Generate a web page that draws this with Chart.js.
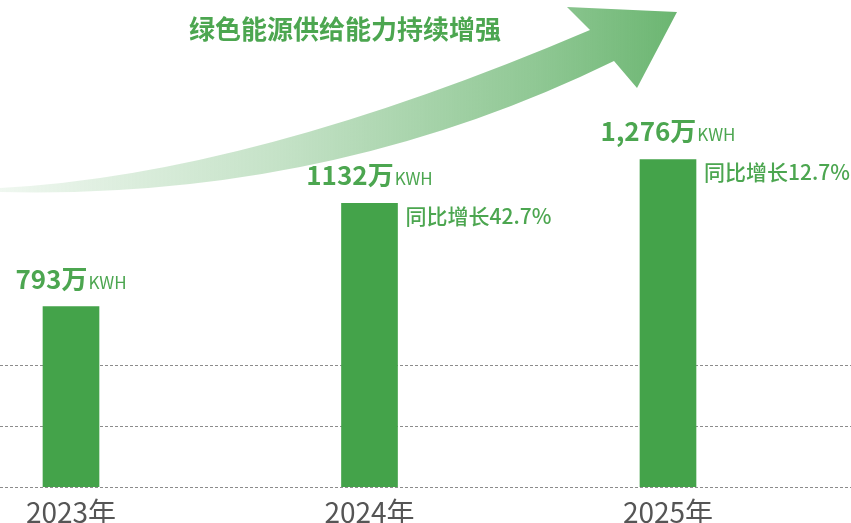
<!DOCTYPE html>
<html>
<head>
<meta charset="utf-8">
<script src="https://cdn.jsdelivr.net/npm/chart.js@4"></script>
<style>
  html, body { margin: 0; padding: 0; background: #fff; }
  canvas { display: block; }
</style>
</head>
<body>
<canvas id="energyChart" width="851" height="523"></canvas>
<script>
const years = ["2023年", "2024年", "2025年"];
const supply = [793, 1132, 1276];
const supplyText = ["793", "1132", "1,276"];
const growth = [null, 42.7, 12.7];
const gridLevels = [200, 400, 600];
const title = "绿色能源供给能力持续增强";

const barGreen = "#44a34a";
const textGreen = "#4ca650";
const fontFamily = "'Noto Sans CJK SC', 'Noto Sans', sans-serif";

const decor = {
  id: "decor",
  beforeDatasetsDraw(chart) {
    const ctx = chart.ctx;
    const y = chart.scales.y;

    // dashed guide lines across the whole width
    ctx.save();
    ctx.strokeStyle = "#8c8c8c";
    ctx.lineWidth = 1;
    ctx.setLineDash([3, 2]);
    gridLevels.forEach(v => {
      const py = Math.round(y.getPixelForValue(v)) + 0.5;
      ctx.beginPath();
      ctx.moveTo(0, py);
      ctx.lineTo(chart.width, py);
      ctx.stroke();
    });
    ctx.restore();

    // big curved arrow
    ctx.save();
    const g = ctx.createLinearGradient(0, 0, 680, 0);
    g.addColorStop(0, "rgba(102,179,108,0.10)");
    g.addColorStop(0.41, "rgba(102,179,108,0.38)");
    g.addColorStop(0.79, "rgba(102,179,108,0.73)");
    g.addColorStop(1, "rgba(102,179,108,0.97)");
    ctx.fillStyle = g;
    ctx.beginPath();
    ctx.moveTo(0, 188);
    ctx.quadraticCurveTo(250, 175, 590, 30);
    ctx.lineTo(567, 7);
    ctx.lineTo(677, 12);
    ctx.lineTo(637, 88);
    ctx.lineTo(614, 61);
    ctx.quadraticCurveTo(330, 200, 0, 192);
    ctx.closePath();
    ctx.fill();
    ctx.restore();

    // title
    ctx.save();
    ctx.fillStyle = textGreen;
    ctx.font = "bold 26px " + fontFamily;
    ctx.textAlign = "center";
    ctx.textBaseline = "middle";
    ctx.fillText(title, 345, 29);
    ctx.restore();
  },
  afterDatasetsDraw(chart) {
    const ctx = chart.ctx;
    const bars = chart.getDatasetMeta(0).data;
    ctx.save();
    ctx.fillStyle = textGreen;
    bars.forEach((bar, i) => {
      const big = supplyText[i] + "万";
      const small = "KWH";
      ctx.font = "bold 26px " + fontFamily;
      const w1 = ctx.measureText(big).width;
      ctx.font = "17px " + fontFamily;
      const w2 = ctx.measureText(small).width;
      const x0 = bar.x - (w1 + 1 + w2) / 2;
      const base = bar.y - 18;
      ctx.textAlign = "left";
      ctx.textBaseline = "alphabetic";
      ctx.font = "bold 26px " + fontFamily;
      ctx.fillText(big, x0, base);
      ctx.font = "17px " + fontFamily;
      ctx.fillText(small, x0 + w1 + 1, base);

      if (growth[i] != null) {
        ctx.font = "500 21px " + fontFamily;
        ctx.textBaseline = "top";
        ctx.fillText("同比增长" + growth[i].toFixed(1) + "%", bar.x + bar.width / 2 + 8, bar.y + 2);
      }
    });
    ctx.restore();
  }
};

new Chart(document.getElementById("energyChart"), {
  type: "bar",
  data: {
    labels: years,
    datasets: [{
      data: supply,
      backgroundColor: barGreen,
      barThickness: 56,
      clip: { left: false, top: false, right: false, bottom: 0 }
    }]
  },
  options: {
    responsive: false,
    animation: false,
    layout: { padding: { left: 71, right: 183, top: 0, bottom: 0 } },
    plugins: { legend: { display: false }, tooltip: { enabled: false } },
    scales: {
      x: {
        offset: false,
        grid: { display: false, drawTicks: false },
        border: { display: false },
        ticks: {
          color: "#555",
          font: { family: fontFamily, size: 28 },
          padding: 9,
          maxRotation: 0,
          autoSkip: false
        },
        afterFit(scale) { scale.height = 36; }
      },
      y: { display: false, min: 200, max: 1800 }
    }
  },
  plugins: [decor]
});
</script>
</body>
</html>
